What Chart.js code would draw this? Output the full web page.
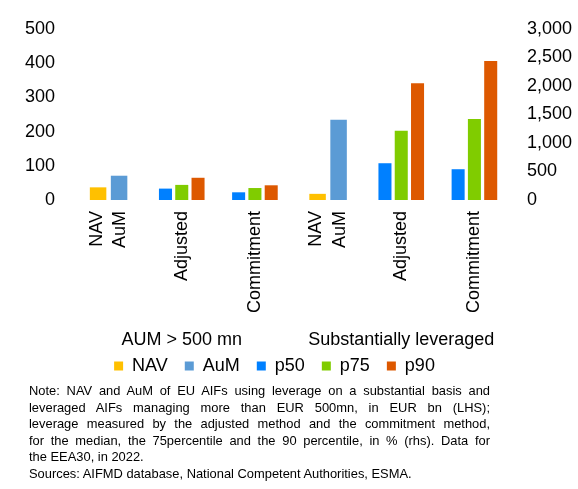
<!DOCTYPE html>
<html>
<head>
<meta charset="utf-8">
<script src="https://cdn.jsdelivr.net/npm/chart.js@4.4.1/dist/chart.umd.min.js"></script>
<style>
  html, body { margin: 0; padding: 0; background: #fff; }
  #wrap { position: relative; width: 578px; height: 489px; overflow: hidden;
          font-family: "Liberation Sans", Arial, sans-serif; }
  #c { position: absolute; left: 0; top: 0; }
  #note { position: absolute; left: 29px; top: 383px; width: 461px;
          font-size: 12.9px; line-height: 16.5px; color: #000; }
  #note .j { text-align: justify; text-align-last: justify; white-space: nowrap; }
</style>
</head>
<body>
<div id="wrap">
  <canvas id="c" width="578" height="385"></canvas>
  <div id="note">
    <div class="j">Note: NAV and AuM of EU AIFs using leverage on a substantial basis and</div>
    <div class="j">leveraged AIFs managing more than EUR 500mn, in EUR bn (LHS);</div>
    <div class="j">leverage measured by the adjusted method and the commitment method,</div>
    <div class="j">for the median, the 75percentile and the 90 percentile, in % (rhs). Data for</div>
    <div>the EEA30, in 2022.</div>
    <div>Sources: AIFMD database, National Competent Authorities, ESMA.</div>
  </div>
</div>
<script>
// Categories and the two groups they belong to
const categories = [['NAV', 'AuM'], 'Adjusted', 'Commitment', ['NAV', 'AuM'], 'Adjusted', 'Commitment'];
const groups = ['AUM > 500 mn', 'Substantially leveraged'];
const groupRanges = [[0, 2], [3, 5]];

// EUR bn (left axis)
const navBn = [37, null, null, 18, null, null];
const aumBn = [71, null, null, 235, null, null];

// Leverage in % (right axis)
const p50 = [null, 200, 135, null, 645, 540];
const p75 = [null, 265, 210, null, 1215, 1420];
const p90 = [null, 390, 258, null, 2050, 2440];

// Axis ticks
const leftTicks = [0, 100, 200, 300, 400, 500];
const rightTicks = [0, 500, 1000, 1500, 2000, 2500, 3000];

const FONT = '"Liberation Sans", Arial, sans-serif';
Chart.defaults.font.family = FONT;
Chart.defaults.font.size = 18;
Chart.defaults.color = '#000';

// Rotated category labels and group captions below the plot
const categoryLabels = {
  id: 'categoryLabels',
  afterDraw(chart) {
    const { ctx, chartArea } = chart;
    const x = chart.scales.x;
    ctx.save();
    ctx.font = '18px ' + FONT;
    ctx.fillStyle = '#000';
    ctx.textBaseline = 'middle';
    ctx.textAlign = 'right';
    const top = chartArea.bottom + 11;
    const lineGap = 23.5;
    categories.forEach((label, i) => {
      const lines = [].concat(label);
      const cx = x.getPixelForValue(i);
      lines.forEach((line, j) => {
        ctx.save();
        ctx.translate(cx + (j - (lines.length - 1) / 2) * lineGap, top);
        ctx.rotate(-Math.PI / 2);
        ctx.fillText(line, 0, 0);
        ctx.restore();
      });
    });
    ctx.textAlign = 'center';
    groups.forEach((g, k) => {
      const [a, b] = groupRanges[k];
      const cx = (x.getPixelForValue(a) + x.getPixelForValue(b)) / 2;
      ctx.fillText(g, cx, chartArea.bottom + 140);
    });
    ctx.restore();
  }
};

// Null entries are skipped so each category clusters only its own bars
const lhsBar = { yAxisID: 'y', skipNull: true, categoryPercentage: 0.574, barPercentage: 0.786, borderWidth: 0 };
const rhsBar = { yAxisID: 'y2', skipNull: true, categoryPercentage: 0.668, barPercentage: 0.8, borderWidth: 0 };

new Chart(document.getElementById('c'), {
  type: 'bar',
  data: {
    labels: categories,
    datasets: [
      { label: 'NAV', data: navBn, backgroundColor: '#FFC000', ...lhsBar },
      { label: 'AuM', data: aumBn, backgroundColor: '#5B9BD5', ...lhsBar },
      { label: 'p50', data: p50, backgroundColor: '#0080FF', ...rhsBar },
      { label: 'p75', data: p75, backgroundColor: '#80CC00', ...rhsBar },
      { label: 'p90', data: p90, backgroundColor: '#DD5800', ...rhsBar }
    ]
  },
  options: {
    responsive: false,
    animation: false,
    layout: { padding: { top: 29, left: -29, right: 0, bottom: 0 } },
    plugins: {
      tooltip: { enabled: false },
      legend: {
        position: 'bottom',
        labels: { boxWidth: 9, boxHeight: 9, padding: 17, color: '#000', font: { size: 18 } }
      }
    },
    scales: {
      x: {
        type: 'category',
        grid: { display: false, drawTicks: false },
        border: { display: false },
        ticks: { display: false },
        afterFit: s => { s.height = 140; }
      },
      y: {
        position: 'left',
        min: leftTicks[0],
        max: leftTicks[leftTicks.length - 1],
        grid: { display: false, drawTicks: false },
        border: { display: false },
        ticks: { padding: 17 },
        afterBuildTicks: s => { s.ticks = leftTicks.map(v => ({ value: v })); },
        afterFit: s => { s.width = 101; }
      },
      y2: {
        position: 'right',
        min: rightTicks[0],
        max: rightTicks[rightTicks.length - 1],
        grid: { display: false, drawTicks: false },
        border: { display: false },
        ticks: { padding: 16, callback: v => v.toLocaleString('en-US') },
        afterBuildTicks: s => { s.ticks = rightTicks.map(v => ({ value: v })); },
        afterFit: s => { s.width = 67; }
      }
    }
  },
  plugins: [categoryLabels]
});
</script>
</body>
</html>
